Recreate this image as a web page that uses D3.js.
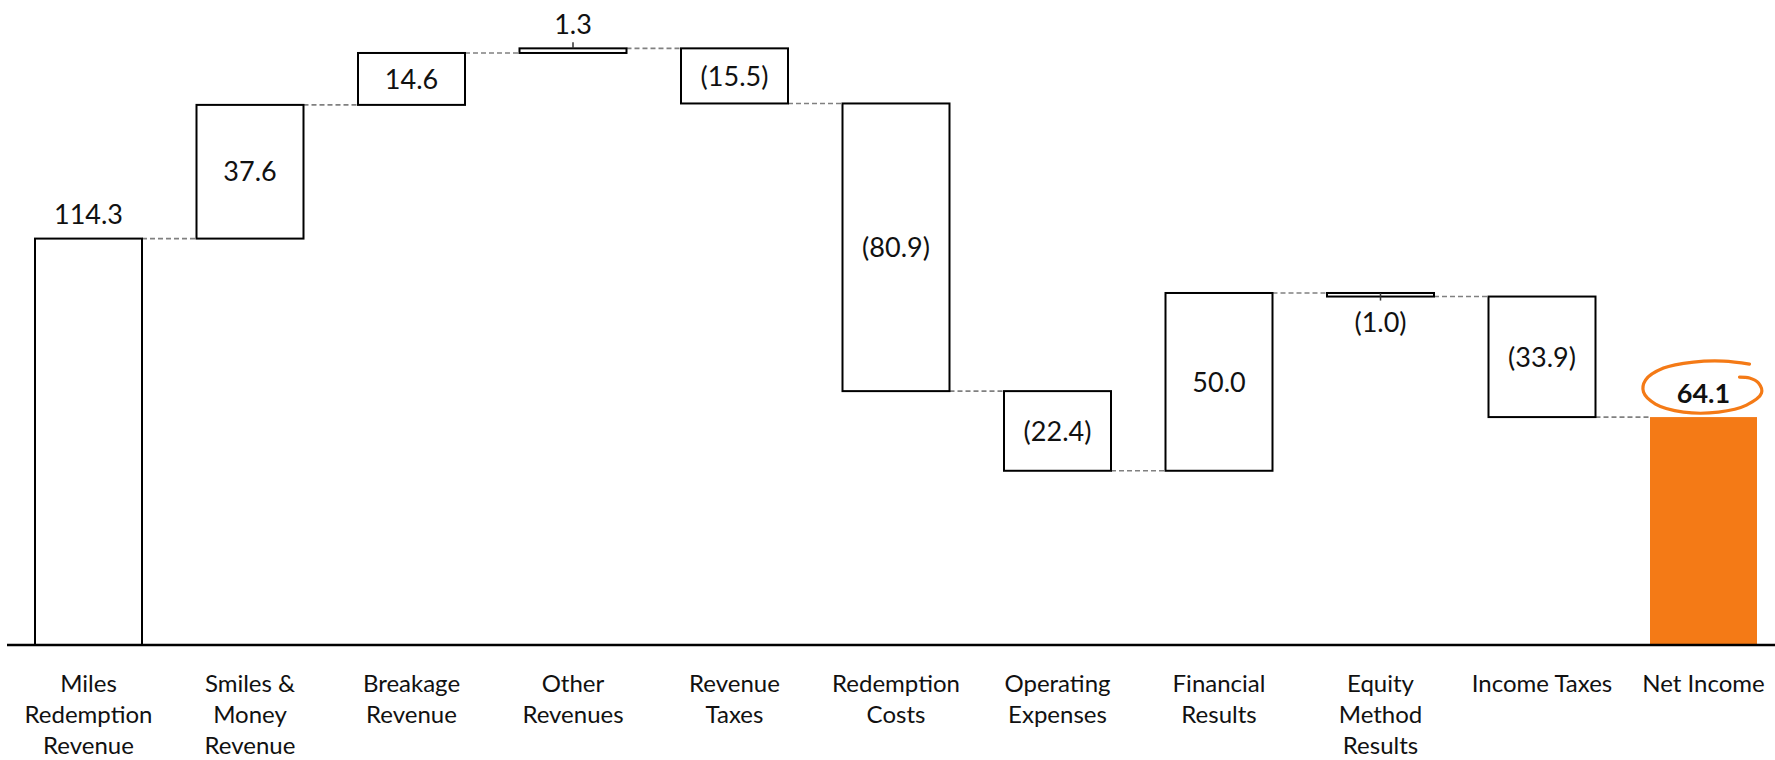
<!DOCTYPE html>
<html>
<head>
<meta charset="utf-8">
<script src="https://cdn.jsdelivr.net/npm/d3@7"></script>
<style>
  html, body { margin: 0; padding: 0; background: #fff; }
  svg { display: block; }
</style>
</head>
<body>
<svg id="chart" width="1775" height="760"></svg>
<script>
// ---- Data ----
const categories = [
  "Miles\nRedemption\nRevenue",
  "Smiles &\nMoney\nRevenue",
  "Breakage\nRevenue",
  "Other\nRevenues",
  "Revenue\nTaxes",
  "Redemption\nCosts",
  "Operating\nExpenses",
  "Financial\nResults",
  "Equity\nMethod\nResults",
  "Income Taxes",
  "Net Income"
];
const values = [114.3, 37.6, 14.6, 1.3, -15.5, -80.9, -22.4, 50.0, -1.0, -33.9, 64.1];
const barKinds = ["start", "delta", "delta", "delta", "delta", "delta", "delta", "delta", "delta", "delta", "total"];
const labelPlacement = ["above", "inside", "inside", "above", "inside", "inside", "inside", "inside", "below", "inside", "above"];

// ---- Layout ----
const W = 1775, H = 760;
const baseY = 645;
const orange = "#F47A16";
const svg = d3.select("#chart");
svg.append("rect").attr("width", W).attr("height", H).attr("fill", "#fff");

const x = d3.scaleBand()
  .domain(categories)
  .range([7.75, 1784.25])
  .paddingInner(0.3375)
  .paddingOuter(0.16875);
const y = d3.scaleLinear().domain([0, 181.4]).range([baseY, 0]);
const bw = x.bandwidth();

// compute waterfall extents
let cum = 0;
const bars = categories.map((c, i) => {
  let s, e;
  if (barKinds[i] === "start") { s = 0; e = values[i]; cum = e; }
  else if (barKinds[i] === "total") { s = 0; e = values[i]; }
  else { s = cum; e = cum + values[i]; cum = e; }
  return { cat: c, v: values[i], s, e, kind: barKinds[i], place: labelPlacement[i] };
});

const fmt = v => v < 0 ? "(" + d3.format(".1f")(-v) + ")" : d3.format(".1f")(v);

// connectors
const conn = svg.append("g");
for (let i = 0; i < bars.length - 1; i++) {
  const lvl = bars[i].e;
  conn.append("line")
    .attr("x1", x(bars[i].cat) + bw)
    .attr("x2", x(bars[i + 1].cat))
    .attr("y1", y(lvl)).attr("y2", y(lvl))
    .attr("stroke", "#808080")
    .attr("stroke-width", 1.6)
    .attr("stroke-dasharray", "5,3");
}

// bars
svg.append("g").selectAll("rect").data(bars).join("rect")
  .attr("x", d => x(d.cat))
  .attr("width", bw)
  .attr("y", d => y(Math.max(d.s, d.e)))
  .attr("height", d => y(Math.min(d.s, d.e)) - y(Math.max(d.s, d.e)))
  .attr("fill", d => d.kind === "total" ? orange : "#fff")
  .attr("stroke", d => d.kind === "total" ? "none" : "#000")
  .attr("stroke-width", 2);

// leader ticks for thin bars labelled outside
bars.forEach(d => {
  if (d.kind === "delta" && d.place === "above") {
    const top = y(Math.max(d.s, d.e));
    svg.append("line").attr("x1", x(d.cat) + bw / 2).attr("x2", x(d.cat) + bw / 2)
      .attr("y1", top).attr("y2", top - 6).attr("stroke", "#333").attr("stroke-width", 1.5);
  }
  if (d.kind === "delta" && d.place === "below") {
    const top = y(Math.max(d.s, d.e));
    const bot = y(Math.min(d.s, d.e));
    svg.append("line").attr("x1", x(d.cat) + bw / 2).attr("x2", x(d.cat) + bw / 2)
      .attr("y1", top).attr("y2", bot + 4).attr("stroke", "#333").attr("stroke-width", 1.5);
  }
});

// axis baseline
svg.append("line").attr("x1", 7).attr("x2", W).attr("y1", baseY).attr("y2", baseY)
  .attr("stroke", "#000").attr("stroke-width", 2.5);

// value labels
const vl = svg.append("g")
  .attr("font-family", "Lato, 'Open Sans', sans-serif")
  .attr("font-size", 27)
  .attr("fill", "#111")
  .attr("text-anchor", "middle");
bars.forEach(d => {
  const top = y(Math.max(d.s, d.e));
  const bot = y(Math.min(d.s, d.e));
  let cy;
  if (d.place === "above") cy = top - 24;
  else if (d.place === "below") cy = bot + 26;
  else cy = (top + bot) / 2;
  vl.append("text")
    .attr("x", x(d.cat) + bw / 2)
    .attr("y", cy)
    .attr("dy", "0.36em")
    .attr("font-weight", d.kind === "total" ? "bold" : "normal")
    .text(fmt(d.v));
});

// hand-drawn circle around net income
const last = bars[bars.length - 1];
const cx = x(last.cat) + bw / 2;
const cyc = y(last.e) - 29;
const loop = [
  [46, -24], [20, -27], [-10, -26], [-40, -20], [-58, -8], [-60, 4], [-48, 16],
  [-20, 24], [15, 24], [43, 17], [58, 5], [55, -5], [46, -10], [36, -11]
].map(p => [cx + p[0], cyc + p[1]]);
svg.append("path")
  .attr("d", d3.line().curve(d3.curveCatmullRom.alpha(0.5))(loop))
  .attr("fill", "none")
  .attr("stroke", orange)
  .attr("stroke-width", 3.2)
  .attr("stroke-linecap", "round");

// category labels
const cl = svg.append("g")
  .attr("font-family", "Lato, 'Open Sans', sans-serif")
  .attr("font-size", 24)
  .attr("fill", "#111")
  .attr("text-anchor", "middle");
categories.forEach(c => {
  c.split("\n").forEach((line, j) => {
    cl.append("text")
      .attr("x", x(c) + bw / 2)
      .attr("y", 683 + j * 31)
      .attr("dy", "0.36em")
      .text(line);
  });
});
</script>
</body>
</html>
